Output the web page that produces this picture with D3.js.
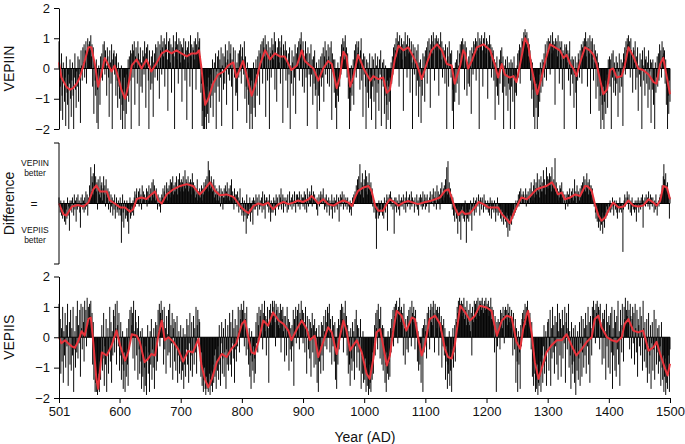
<!DOCTYPE html>
<html><head><meta charset="utf-8">
<script src="https://cdn.jsdelivr.net/npm/d3@7"></script>
<style>html,body{margin:0;padding:0;background:#fff}svg{display:block;font-family:"Liberation Sans",Arial,Helvetica,sans-serif}</style>
</head><body>
<svg id="chart" width="685" height="444"></svg>
<script>
// ---------- DATA ----------
const startYear = 501, endYear = 1500;
const years = d3.range(startYear, endYear + 1);
const xTickValues = [501, 600, 700, 800, 900, 1000, 1100, 1200, 1300, 1400, 1500];
const yTickValues = [-2, -1, 0, 1, 2];

// VEPIIN annual values (one row per decade, 501..1500)
const vepiinValues = [
0.9,0.3,-0.6,-1.4,0.5,-0.9,-1.7,0.2,-0.4,-1.1,
-0.3,-1.9,0.4,-0.8,-1.2,-0.2,-2.0,-0.5,0.3,-1.0,
-1.6,-0.4,0.2,-0.9,-2.0,-0.3,0.5,-0.7,-1.3,-0.1,
-0.6,0.4,-1.1,0.3,-0.2,-1.8,0.6,0.1,-0.4,0.7,
0.2,0.8,-0.3,0.6,0.9,-0.5,0.5,1.0,0.7,0.8,
0.9,0.6,1.1,0.4,0.8,-0.6,0.7,-1.5,0.2,-0.4,
-0.9,0.3,-1.8,-0.7,-2.0,0.1,-0.5,-1.2,0.4,-0.3,
0.5,-0.4,0.8,0.3,0.9,-0.2,0.6,0.1,-0.9,0.7,
0.4,-0.3,-1.6,0.6,0.2,-0.5,0.8,-2.0,0.3,0.5,
0.6,-0.2,0.4,-0.9,0.5,-0.4,-1.3,0.2,-0.6,-1.0,
-0.5,-1.7,0.1,-1.2,-2.0,-0.8,-1.4,-0.3,-2.0,-0.9,
-1.5,-0.2,-0.9,0.3,-1.1,0.4,-0.4,0.6,-2.0,0.5,
0.8,-0.3,0.6,0.9,-1.2,0.4,0.7,0.2,-0.5,0.9,
0.5,-1.9,0.3,0.7,-0.6,0.2,-0.8,0.6,0.4,-0.2,
0.9,0.5,-1.3,0.7,0.3,0.8,-0.4,-2.0,0.6,0.1,
-0.7,0.4,-0.5,0.6,-1.6,0.2,0.5,-0.3,0.8,0.1,
0.7,-0.4,0.9,0.3,-1.0,0.8,0.6,1.1,-0.2,0.7,
0.9,0.4,1.0,-0.6,0.8,0.7,1.2,0.3,-1.4,0.9,
0.6,1.0,0.2,0.8,-0.8,0.7,0.5,1.1,0.4,-2.0,
0.9,0.7,1.2,0.3,0.8,-0.5,1.0,0.6,0.9,0.2,
0.8,-1.1,0.7,0.5,1.0,0.3,-0.4,0.9,0.6,-1.7,
0.7,0.2,0.9,0.5,-0.6,1.1,0.4,0.8,-2.0,0.7,
0.6,0.9,0.3,1.0,-0.7,0.8,0.5,1.2,0.7,0.9,
1.0,0.4,-0.8,-0.5,-1.9,-1.4,-2.0,-0.9,-2.0,-1.6,
-1.0,-2.0,-0.6,-1.5,-0.3,-1.8,-0.9,-0.2,-1.3,-0.5,
-0.9,0.3,-1.6,-0.4,0.2,-0.8,0.5,-2.0,-0.1,0.4,
-0.6,0.6,-1.1,0.3,-0.3,0.7,-1.9,0.1,0.5,-0.7,
0.4,-0.5,0.8,0.2,-1.2,0.6,0.3,-0.2,0.9,-0.4,
0.5,0.8,-0.6,0.3,-2.0,0.7,0.1,-0.3,0.6,-0.9,
-0.8,0.2,-1.4,0.5,-0.3,0.6,-0.1,0.8,-0.5,0.4,
0.7,0.3,-0.2,0.9,-1.0,0.4,-0.6,-1.8,0.2,-0.7,
-1.2,-0.3,-2.0,-0.8,-1.5,-0.4,-2.0,-0.9,0.2,-1.3,
-0.5,-1.6,0.3,-0.2,-0.9,0.4,-0.1,0.6,-1.2,0.5,
0.8,0.2,0.9,-0.5,1.0,0.7,0.4,1.1,-1.6,0.8,
0.6,-0.4,0.9,0.3,-2.0,0.7,0.5,-0.3,1.0,0.6,
0.8,0.3,1.2,-0.7,0.9,0.5,-1.1,0.7,0.4,1.0,
0.2,0.9,-0.5,0.7,1.1,0.4,-1.8,0.8,0.6,0.3,
0.9,-0.4,0.6,0.2,-1.3,0.5,-0.2,0.7,-2.0,0.1,
-0.5,0.6,0.2,-0.9,0.4,-0.3,0.8,-1.5,0.5,0.1,
0.7,0.3,0.9,-0.4,1.0,0.8,1.2,0.5,-0.6,0.9,
0.6,-0.8,0.4,0.9,-0.3,0.5,-1.9,0.7,0.2,-0.2,
0.5,-0.6,0.8,-0.2,0.3,-1.2,0.4,-0.5,0.6,-0.9,
-0.7,0.2,-2.0,-0.4,-0.9,0.3,-1.4,-0.2,0.4,-0.6,
0.5,-0.3,0.7,-1.1,0.4,0.9,-0.2,0.6,0.3,-0.5,
0.8,0.4,-0.6,0.7,0.2,0.9,-1.7,0.5,-0.1,0.3,
-0.8,0.3,-1.3,-0.5,-2.0,-0.9,0.2,-1.1,-0.3,-0.6,
0.4,-0.2,0.8,0.5,1.0,0.7,0.9,0.3,1.1,0.6,
0.7,-0.3,0.5,-1.0,-0.6,-2.0,-0.8,-1.4,0.1,-0.9,
-0.5,0.3,-1.2,0.6,0.2,0.8,-0.3,0.9,0.5,0.7,
0.9,0.4,-0.7,0.6,1.0,-0.4,0.3,-1.6,0.5,-0.2,
0.4,-0.6,-2.0,0.3,-0.8,0.2,-1.3,-0.4,0.5,-1.0,
-0.2,-1.7,0.4,-0.6,0.3,-1.1,-0.4,0.5,-2.0,0.1,
-0.8,0.4,-0.5,-1.4,0.3,-0.2,0.6,-1.9,-0.4,0.2,
-0.6,0.3,-1.5,-0.9,0.1,-2.0,-1.2,-0.4,-1.7,-0.6,
-1.1,-0.3,-2.0,0.2,-0.5,0.4,-0.2,0.7,0.3,0.8,
0.6,1.0,0.4,1.2,0.8,0.9,-0.6,1.1,0.7,0.5,
1.0,0.3,0.8,-1.4,0.9,0.6,1.2,0.4,0.8,-0.3,
1.1,0.7,0.5,1.0,-0.8,0.6,0.9,0.2,-2.0,0.8,
0.5,-0.2,0.7,0.3,-0.9,0.6,-0.4,0.8,-1.6,0.2,
-0.6,0.3,-1.8,-0.4,-0.9,0.5,-0.3,0.4,-1.1,0.6,
0.2,0.7,-0.5,0.9,0.4,1.0,0.6,-1.3,0.8,1.1,
0.9,0.5,1.2,0.8,-0.4,1.0,0.7,1.1,0.6,0.9,
1.0,-0.9,0.8,0.6,1.2,0.3,0.9,-0.3,0.7,0.5,
0.6,-0.5,0.8,0.2,-2.0,0.7,0.4,-0.6,0.9,0.1,
0.5,-0.3,0.6,-1.4,-0.7,-2.0,-0.4,-1.1,0.2,-0.8,
0.3,-0.5,0.6,0.1,-1.2,0.5,0.8,0.2,0.9,0.4,
1.0,0.6,0.8,-0.7,0.9,0.3,0.7,-0.9,0.2,-0.5,
0.4,-0.6,0.6,0.1,-1.5,0.7,0.5,-0.2,0.9,0.6,
0.8,1.0,-0.4,0.9,0.6,1.2,0.7,-2.0,1.0,0.8,
0.9,1.1,0.6,-0.6,1.0,0.8,1.2,0.7,0.5,1.0,
0.9,-1.0,0.8,0.6,1.1,0.4,0.8,-0.3,0.7,0.5,
0.6,-0.4,0.3,-1.7,0.2,-0.6,0.4,-0.9,-0.2,-1.2,
0.3,-0.5,0.6,0.2,0.7,-0.8,0.4,-2.0,0.1,-0.6,
0.3,-0.9,-0.2,0.4,-1.4,-0.5,0.2,-0.7,-2.0,0.3,
-0.6,0.2,-1.1,-0.3,0.4,-2.0,-0.8,-0.2,-0.9,0.1,
0.5,-0.3,0.6,0.8,-0.5,0.7,0.3,1.0,0.9,0.6,
1.2,0.9,1.3,1.1,0.8,1.2,0.7,1.0,0.4,0.8,
0.6,-0.4,0.3,-1.0,0.2,-0.7,-1.6,-0.3,-2.0,-0.6,
-1.3,-0.5,-2.0,-0.9,-1.6,-0.2,-1.1,0.2,-0.8,-0.4,
0.3,-0.6,0.2,0.5,-0.3,0.8,0.4,-0.4,0.9,0.6,
1.0,0.7,0.9,-0.2,1.1,0.8,0.5,1.2,0.6,0.9,
0.8,-1.2,1.0,0.7,0.9,0.4,1.1,0.6,-0.5,0.9,
0.7,0.3,0.9,-0.7,0.6,0.5,-2.0,0.8,0.4,0.7,
0.8,0.2,0.6,-0.4,0.5,0.9,-0.9,0.3,-0.2,0.4,
-0.5,0.3,-1.3,-0.2,0.4,-0.8,-2.0,0.2,-0.4,0.5,
0.3,-0.3,0.6,0.2,0.8,-0.5,0.7,0.9,0.5,1.0,
0.8,1.2,0.4,0.9,-0.6,1.0,0.7,0.5,1.1,-1.5,
0.9,0.6,1.0,0.3,-0.4,0.8,0.2,0.6,-1.0,0.4,
0.5,-0.6,0.2,-1.4,-0.3,-0.9,-2.0,-0.5,-1.2,-1.7,
-0.6,-2.0,-1.1,-0.4,-1.5,-0.8,-0.2,-1.3,0.3,-0.5,
0.4,-0.6,0.3,-2.0,0.5,-0.3,0.6,-0.8,0.2,-0.4,
-0.9,0.4,-0.5,0.2,-1.6,-0.1,0.5,-0.8,-0.3,0.3,
-0.6,0.2,-1.9,0.5,0.3,0.7,-0.2,0.9,0.6,1.0,
0.8,1.1,0.5,0.9,-0.3,1.0,0.6,0.4,-0.8,0.7,
0.6,0.2,0.9,-0.7,0.4,-0.3,0.7,-1.4,0.1,-0.2,
0.5,-0.6,0.3,-2.0,0.6,0.1,-0.4,0.7,-0.9,0.3,
0.4,-0.5,0.2,-1.3,0.6,-0.7,-0.1,0.3,-1.8,0.2,
-0.7,0.3,-1.2,-0.5,-2.0,0.2,-0.8,-0.3,0.4,-0.6,
0.5,-0.4,0.8,0.2,0.6,-0.3,0.9,0.4,0.7,0.5,
0.6,-0.5,0.3,-1.2,-0.6,-2.0,-0.9,-1.5,-0.4,-1.1
];

// Difference (VEPIIN minus VEPIIS skill) annual values
const differenceValues = [
0.2,-0.1,-0.3,0.1,-0.4,-0.2,-0.5,-0.3,0.1,-0.6,
-0.3,-0.7,-0.2,-0.5,0.2,-0.4,-0.1,-0.9,0.1,-0.2,
0.1,-0.3,0.2,-0.1,-0.4,0.3,-0.2,0.1,-0.6,0.2,
-0.2,0.3,-0.1,0.1,-0.3,-0.8,0.2,-0.1,0.3,-0.2,
0.1,-0.3,0.2,-0.2,0.4,-0.1,0.3,-0.4,0.2,0.1,
0.6,0.2,1.2,0.4,0.9,0.7,1.0,0.3,1.3,0.5,
0.9,0.4,0.7,-0.2,0.8,0.5,0.3,0.9,0.2,0.6,
0.7,0.1,0.5,0.9,0.3,0.6,-0.1,0.8,0.4,0.2,
0.5,-0.2,0.4,0.1,-0.3,0.3,-0.1,0.2,-0.4,0.1,
-0.2,0.3,-0.5,-0.1,0.2,-0.3,-0.2,0.1,-0.4,-0.2,
0.2,-0.4,-1.3,-0.6,0.3,-0.3,-0.8,0.1,-0.2,-0.5,
-0.4,0.1,-0.6,-0.3,-1.0,-0.2,0.2,-0.5,-0.4,-0.1,
-0.3,0.1,-0.4,0.2,0.4,-0.1,0.3,0.5,0.1,0.2,
0.4,-0.1,0.5,0.2,0.3,-0.2,0.6,0.1,0.4,0.2,
0.3,0.0,0.2,0.5,-0.1,0.4,0.1,0.6,0.3,0.2,
0.5,0.1,0.7,0.3,0.8,0.2,0.6,0.4,0.1,0.5,
0.2,-0.2,0.3,0.0,-0.1,0.2,-0.3,0.1,0.3,0.2,
0.5,0.1,0.4,0.6,0.2,0.3,0.7,0.1,0.5,0.4,
0.6,0.3,0.8,0.2,0.7,0.5,0.9,0.3,0.6,0.4,
0.7,0.4,0.9,0.5,0.3,0.8,0.6,1.0,0.4,0.7,
0.8,0.5,0.7,0.9,0.4,0.6,1.1,0.5,0.8,0.7,
0.6,0.9,0.4,0.7,0.5,0.8,0.3,0.7,1.0,0.5,
0.7,0.4,0.6,0.2,0.5,0.3,0.8,0.1,0.4,0.2,
0.5,0.2,0.4,0.6,0.1,0.5,0.3,0.7,0.4,0.6,
0.8,0.5,0.9,0.6,1.4,0.4,1.1,0.7,0.5,0.9,
0.7,0.4,0.5,0.8,0.2,0.6,0.3,0.1,0.5,0.3,
0.4,0.1,0.6,0.2,-0.1,0.5,0.3,0.4,-0.2,0.2,
0.5,0.2,0.6,0.1,0.4,0.7,0.2,0.3,0.5,0.1,
0.6,0.3,0.8,0.1,0.4,0.2,-0.2,0.5,0.3,0.0,
0.3,-0.1,0.4,0.2,-0.3,0.1,0.5,-0.2,0.0,-0.4,
0.2,-0.3,-0.6,0.1,-0.4,-0.2,-1.0,0.3,-0.5,-0.1,
-0.4,-0.2,0.2,-0.6,-0.1,-0.3,0.1,-0.7,0.2,-0.2,
0.1,-0.2,0.3,-0.1,0.2,-0.4,0.0,0.3,-0.2,0.1,
-0.1,0.2,-0.3,0.4,0.0,-0.2,0.3,-0.5,0.1,0.2,
0.2,-0.1,0.1,-0.3,0.3,-0.2,-0.6,0.1,-0.3,-0.1,
-0.3,0.2,-0.2,0.1,-0.4,0.3,-0.1,0.2,0.0,-0.2,
0.3,-0.1,0.2,0.5,-0.2,0.1,0.3,-0.3,0.2,0.0,
-0.1,0.2,0.1,-0.3,0.3,-0.2,0.0,0.4,-0.1,0.1,
0.2,-0.2,0.3,0.1,-0.1,0.4,0.0,-0.3,0.3,0.2,
0.3,-0.1,0.2,0.4,-0.2,0.1,0.3,0.0,0.2,-0.1,
0.2,0.4,-0.2,0.3,0.1,-0.3,0.5,0.2,-0.1,0.3,
0.4,0.1,0.3,0.6,-0.1,0.2,0.4,0.0,0.3,0.1,
0.1,-0.2,0.2,-0.4,0.0,0.3,-0.1,0.2,0.4,0.1,
0.3,0.0,0.5,0.1,-0.2,0.2,-0.1,0.3,-0.3,0.1,
-0.1,0.2,-0.4,0.1,0.0,-0.2,0.3,-0.5,0.1,-0.1,
0.2,-0.3,0.1,-0.1,0.3,-0.2,0.0,0.2,-0.6,0.1,
0.3,-0.1,0.2,0.4,0.0,-0.2,0.3,0.1,-0.1,0.2,
0.1,-0.2,0.2,-0.1,0.0,-0.3,0.1,-0.2,-0.4,0.0,
0.2,-0.1,0.3,0.1,0.4,0.2,0.6,0.3,0.8,0.5,
0.9,0.4,1.3,0.3,0.7,0.5,1.0,0.6,0.2,0.8,
0.6,1.1,0.4,0.9,0.3,0.7,0.5,1.0,0.6,0.4,
0.7,0.3,0.5,-0.1,0.2,-0.3,0.1,-0.2,-0.5,-1.5,
-0.3,-0.1,-0.5,0.1,-0.4,-0.3,-0.2,0.1,-0.3,-0.4,
-0.2,-0.5,0.2,-0.1,-0.3,0.1,0.3,-0.9,0.2,0.0,
0.3,0.1,0.4,-0.1,0.2,0.0,-0.2,0.1,-1.0,0.2,
-0.1,0.2,-0.3,0.1,0.0,-0.2,0.3,-0.4,0.1,-0.1,
0.2,-0.1,0.1,0.3,-0.2,0.0,0.2,-0.3,0.4,0.1,
-0.1,0.2,0.0,0.3,-0.2,0.1,0.4,-0.1,0.2,0.0,
0.1,-0.3,0.2,0.0,-0.1,0.3,-0.2,0.1,-0.4,0.2,
0.0,0.3,-0.1,0.2,-0.2,0.4,-0.1,0.1,0.3,-0.2,
0.2,-0.1,0.3,0.0,0.1,-0.3,0.2,0.4,0.0,0.1,
0.3,0.0,0.5,-0.1,0.2,0.4,0.1,-0.2,0.6,0.2,
0.4,0.1,0.3,-0.2,0.5,0.2,0.7,0.3,0.1,0.5,
0.6,0.2,0.8,0.4,1.2,0.3,1.4,0.5,0.7,0.2,
0.5,0.1,0.3,-0.2,0.2,-0.4,0.0,-0.6,-0.1,-0.3,
-0.5,-0.2,-1.0,-0.4,-0.1,-0.6,-0.3,-1.2,-0.2,-0.4,
-0.1,-0.5,-0.3,-0.6,0.1,-0.4,-1.3,-0.2,-0.5,-0.3,
-0.6,-0.2,-0.4,0.1,-0.3,-0.9,-0.1,-0.2,0.2,-0.4,
-0.2,0.1,-0.3,0.2,0.0,-0.1,0.3,0.1,-0.4,0.2,
0.1,-0.2,0.2,0.0,-0.3,0.3,-0.1,0.1,-0.2,0.0,
-0.2,0.1,-0.3,0.0,-0.4,0.2,-0.1,-0.5,0.1,-0.2,
-0.1,-0.3,0.1,-0.2,-0.6,0.0,-0.3,0.2,-0.4,-0.1,
-0.3,-0.1,-0.5,-0.2,-0.6,-0.3,0.0,-0.7,-0.4,-0.5,
-0.6,-0.3,-0.8,-0.4,-1.1,-0.5,-0.7,-0.9,-0.4,-0.6,
-0.7,-0.3,-0.5,-0.2,-0.4,0.0,-0.3,0.1,-0.2,0.0,
0.1,0.3,-0.1,0.4,0.2,0.5,0.0,0.3,0.2,0.4,
0.3,0.0,0.2,0.5,-0.1,0.3,0.1,0.4,0.2,0.0,
0.5,0.2,0.7,0.3,0.4,0.1,0.6,0.8,0.2,0.5,
0.7,0.3,1.0,0.5,0.4,0.8,0.2,0.6,0.9,0.4,
0.7,0.4,1.1,0.5,0.8,0.3,0.6,1.2,0.5,0.9,
0.8,0.5,1.0,0.6,0.9,0.4,1.2,0.7,0.5,0.8,
0.6,1.5,0.4,0.7,0.3,0.5,0.1,0.4,0.2,0.6,
0.5,0.3,0.7,0.2,0.4,0.0,0.3,0.1,-0.2,0.3,
0.2,0.4,-0.1,0.3,0.1,0.5,0.2,0.0,0.4,0.2,
0.5,0.1,0.3,0.8,0.2,0.4,0.0,0.6,0.3,0.4,
0.3,0.1,0.5,0.2,0.6,0.3,0.7,0.4,0.9,0.5,
0.8,0.4,0.6,1.0,0.5,0.7,0.3,0.8,0.6,0.4,
0.6,0.3,0.5,0.1,0.2,-0.1,0.0,-0.3,-0.5,-0.2,
-0.6,-0.3,-0.8,-0.4,-0.6,-0.9,-0.5,-0.7,-0.3,-1.0,
-0.6,-0.4,-0.8,-0.3,-0.5,-0.1,-0.4,-0.2,0.0,-0.3,
-0.2,0.1,-0.3,0.0,-0.2,0.2,-0.1,-0.4,0.1,0.0,
-0.2,0.1,-0.3,-0.5,0.0,-0.1,-0.3,0.2,-0.2,-0.1,
-0.3,0.0,-1.6,-0.2,0.1,0.3,-0.1,0.2,0.0,0.4,
0.2,-0.2,0.3,0.0,-0.3,0.1,-0.4,0.2,-0.1,-0.2,
0.0,-0.3,0.1,-0.2,-0.6,0.1,-0.1,0.2,-0.3,-0.1,
0.1,-0.2,0.2,-0.1,0.3,-0.8,0.1,0.0,0.2,-0.1,
0.3,0.0,0.2,-0.1,0.4,0.1,-0.2,0.3,0.0,0.2,
-0.1,0.2,0.0,-0.3,0.1,-0.2,0.3,-0.1,-0.4,0.0,
0.1,-0.1,0.2,0.3,0.0,0.4,0.6,0.5,0.9,1.3,
0.8,0.5,1.0,0.6,0.4,0.7,0.2,0.3,-0.5,0.2
];

// VEPIIS annual values
const vepiisValues = [
1.1,-0.4,0.6,-1.2,0.3,-0.8,1.0,-1.5,0.2,-0.6,
0.8,-1.0,0.4,-0.3,1.1,-1.6,-0.2,0.5,-0.9,0.9,
-1.1,0.3,-0.6,1.0,-1.8,-0.4,0.2,-1.0,0.7,-0.5,
1.2,-0.7,0.4,-0.2,0.9,-1.3,1.1,0.3,-0.4,1.0,
0.5,-0.8,1.2,0.2,0.9,-0.3,1.3,0.6,1.0,0.4,
1.1,0.7,1.2,0.3,0.8,-0.9,0.5,-1.4,-0.6,-1.8,
-1.5,-1.8,-1.3,-1.9,-1.7,-1.2,-1.8,-0.8,-1.4,-0.6,
0.4,-1.1,-0.7,0.8,-1.6,-0.3,-0.9,0.6,-1.8,-0.5,
0.3,-1.2,-0.4,1.0,-0.8,0.5,-1.5,0.2,-0.6,0.9,
0.7,-0.5,1.1,0.3,-0.9,1.2,0.4,-0.3,0.8,-1.1,
-0.6,0.5,-1.4,-0.9,0.2,-1.7,-1.1,-0.5,-1.8,-0.8,
-1.3,0.3,-0.9,-1.6,0.6,-0.4,0.9,-0.2,1.0,0.4,
0.8,-0.7,1.2,0.2,-1.1,0.9,0.5,-0.6,0.3,-1.4,
0.7,-0.4,-1.2,0.2,-0.8,-1.7,0.3,-1.3,-0.6,-1.8,
-1.0,-1.6,-0.3,-1.9,-0.7,0.4,-1.2,-0.5,-1.8,0.2,
-0.9,0.6,-1.4,-0.4,-1.0,0.3,-1.7,-0.6,0.5,-1.1,
0.4,-0.8,0.9,0.2,1.1,-0.3,0.8,1.2,0.6,0.9,
0.5,-0.9,1.0,-0.4,0.3,-1.2,0.7,0.1,-0.6,0.9,
-0.5,1.1,-1.0,0.4,-0.2,0.8,-1.4,0.3,0.6,-0.8,
0.5,-1.1,-0.3,0.7,-1.5,-0.6,0.2,-1.2,-0.8,0.4,
-1.4,-0.6,-1.1,0.3,-1.7,-0.9,0.1,-1.3,-0.4,0.6,
-0.9,0.4,-1.5,-0.2,0.8,-1.1,-0.6,0.5,-1.3,-0.4,
0.7,-0.9,0.3,-0.5,1.0,-1.2,0.4,0.9,-0.3,0.6,
0.5,-0.8,-1.3,-0.5,-1.6,-1.1,-1.8,-1.4,-1.0,-1.7,
-1.9,-1.3,-1.7,-1.5,-1.8,-1.6,-1.2,-1.9,-1.4,-1.6,
-1.1,-1.8,-0.9,-1.5,-0.6,-1.3,-0.4,-1.7,-0.8,-1.1,
-0.3,-1.4,0.4,-0.9,-1.6,-0.2,0.5,-1.2,-0.7,0.3,
-1.3,-0.5,0.6,-1.7,-0.4,-0.9,0.4,-1.1,-0.6,0.8,
-0.9,0.5,-1.3,-0.2,0.9,-0.7,0.3,-1.5,0.6,-0.4,
-0.8,0.4,-0.3,1.0,0.2,-0.5,0.9,0.6,1.1,0.3,
0.9,0.4,1.2,-0.3,0.8,0.6,-0.6,1.0,0.2,-0.4,
-0.9,0.3,-1.3,-0.6,-1.7,0.2,-0.8,-1.1,-0.3,-1.5,
-0.7,-1.2,0.5,-0.2,0.8,-0.5,0.4,1.0,0.1,0.7,
0.9,0.3,1.1,-0.4,0.8,0.6,1.2,0.2,0.7,-0.6,
0.6,1.0,0.3,-1.5,0.9,0.5,1.1,0.8,0.4,1.2,
1.0,0.7,1.2,0.5,-0.3,1.1,0.9,0.6,1.0,0.4,
0.8,0.3,1.1,-0.5,0.9,0.6,1.0,0.2,0.7,-0.8,
0.7,0.4,-0.6,1.0,0.2,0.6,-1.1,0.5,-0.4,0.3,
-0.8,0.4,-0.3,0.9,-1.6,0.6,0.1,1.0,-0.2,0.7,
0.9,0.3,1.1,-0.4,0.8,0.6,1.2,0.5,0.9,-0.2,
0.8,0.5,-0.5,1.0,0.3,-1.2,0.7,0.2,-0.4,0.6,
-0.7,0.5,-1.3,0.3,0.8,-0.5,0.4,-1.0,0.6,0.2,
-0.9,0.3,-1.5,-0.6,-1.8,0.4,-0.8,-0.3,-1.2,0.5,
-0.6,0.4,-1.1,0.7,0.2,-0.3,0.9,0.5,-0.4,1.0,
0.8,0.3,1.1,-0.5,0.6,0.2,-0.9,0.7,-0.3,0.4,
-0.8,0.5,-1.4,-0.6,-1.7,0.3,-0.9,0.6,-0.4,0.4,
0.9,0.2,1.1,0.6,1.0,-0.5,0.8,0.4,1.2,0.3,
0.7,-0.6,0.4,-1.2,0.2,-0.9,-1.6,0.3,-0.7,-1.1,
0.5,-0.8,0.2,-1.4,0.6,-0.3,0.9,-1.0,0.4,-0.5,
0.3,-1.1,-0.4,0.6,-1.7,-0.6,-1.2,0.2,-1.5,-0.9,
-1.4,-0.7,-1.8,-1.1,-1.6,-1.3,-1.9,-0.9,-1.7,-1.5,
-1.8,-1.0,-1.4,-0.5,-1.2,-0.2,0.4,-0.6,0.8,0.3,
0.9,-0.4,1.1,0.2,0.6,-0.7,1.0,0.3,-0.9,0.4,
-1.1,0.3,-0.6,-1.5,-0.9,-1.8,-0.5,-1.2,0.2,-1.4,
-0.8,-1.3,0.3,-0.5,0.6,0.2,0.9,-0.3,1.0,0.7,
1.1,0.6,1.2,0.9,-0.2,1.0,0.8,1.3,0.5,0.9,
1.0,0.4,0.8,-0.6,1.1,0.3,-0.9,0.6,0.2,-0.4,
0.7,-0.5,0.9,0.4,1.0,0.6,-0.3,1.2,0.8,0.5,
1.0,0.7,-0.4,0.9,0.3,0.5,-0.8,0.2,-1.1,-0.3,
-0.9,-0.2,-1.5,-0.6,0.3,-1.8,0.4,-0.5,0.6,0.2,
0.4,-0.7,0.8,0.3,1.0,0.6,-0.4,0.9,1.1,0.5,
1.0,0.4,1.2,0.8,-0.5,1.1,0.7,0.9,0.3,1.0,
0.8,-0.6,1.0,0.5,0.2,0.7,-1.0,0.4,-0.3,0.6,
-0.6,0.3,-1.4,-0.8,-0.3,-1.7,-0.9,-1.2,0.2,-1.6,
-1.1,-0.4,-1.8,-0.7,0.3,-1.0,-0.5,0.4,-0.8,0.6,
0.5,1.0,0.8,1.2,0.6,1.3,1.1,0.9,1.2,0.7,
1.1,0.8,1.3,0.6,1.0,0.9,0.4,1.2,0.7,0.5,
0.9,0.4,1.1,0.2,0.8,-0.6,1.0,0.7,0.5,1.2,
0.9,1.1,0.6,1.2,0.8,1.3,1.0,0.7,1.2,1.1,
1.2,0.9,1.3,1.0,0.8,1.1,1.2,0.9,1.3,1.0,
1.1,1.0,1.2,0.7,1.0,0.9,1.3,0.6,1.0,0.8,
0.9,0.4,-0.5,0.7,0.2,-1.8,0.5,-0.3,0.6,0.2,
0.5,-0.4,0.9,0.6,0.8,0.3,1.0,0.7,-0.2,0.9,
1.0,0.6,0.9,0.4,1.1,0.8,0.5,1.0,0.7,0.3,
0.9,0.5,-0.6,0.8,0.2,-0.4,0.6,-1.5,0.3,-0.8,
-1.8,0.2,-0.9,-0.5,-1.7,0.4,-0.3,0.6,0.8,0.5,
0.9,0.6,1.1,0.4,1.0,0.8,1.2,0.9,0.7,0.5,
0.8,0.3,-0.4,0.5,-1.3,-0.8,-1.6,-0.5,-1.2,-1.8,
-1.4,-1.7,-0.9,-1.9,-1.5,-1.6,-1.3,-0.8,-1.8,-1.1,
-0.6,-1.5,-0.3,0.4,-1.2,-0.8,0.2,-1.6,-0.4,0.5,
0.6,-1.1,-0.4,0.9,-1.6,0.3,-0.7,1.0,-0.5,0.4,
-1.2,0.7,-0.3,0.5,-0.9,1.1,-1.4,0.2,0.8,-0.6,
0.6,-1.3,0.3,0.9,-0.7,0.4,-0.2,1.0,-1.5,0.5,
0.8,-0.4,0.3,1.1,-1.0,0.2,-0.6,-1.7,0.5,-0.9,
-1.2,0.3,-0.8,-1.5,0.4,-1.9,-0.6,-1.1,0.2,-1.4,
-0.7,0.5,-1.6,-0.2,0.7,-1.3,-0.5,0.6,-1.0,0.3,
-0.6,0.8,-1.2,0.4,-0.3,1.0,-0.9,0.5,-1.5,0.7,
0.3,-0.6,1.0,0.7,1.2,0.5,0.9,-0.2,1.1,0.8,
1.2,0.6,1.0,0.9,-0.4,1.1,0.5,0.3,-0.9,0.8,
0.6,-0.7,0.9,0.2,-1.4,1.1,-0.3,0.5,-1.0,0.7,
0.4,-1.2,0.8,-0.5,1.0,-1.7,0.3,-0.6,0.9,-1.1,
0.5,-1.3,0.7,-0.4,1.2,-0.9,0.2,-1.6,0.9,0.4,
-0.5,1.1,0.3,-0.8,1.0,0.6,1.3,0.4,0.9,0.7,
1.2,0.5,0.9,-0.4,1.1,0.7,-0.7,0.6,1.0,-0.2,
0.8,-0.9,1.1,0.3,-0.5,0.9,-1.3,0.6,0.4,-0.3,
1.0,-0.6,0.7,0.2,-1.1,1.2,0.3,-0.8,0.5,-0.4,
-1.0,0.6,-1.5,-0.3,0.8,-1.2,-0.6,0.4,-1.7,-0.2,
0.5,-1.1,-0.4,0.9,-1.4,-0.2,0.6,-0.9,-0.5,0.3,
-1.2,0.4,-0.8,-0.3,-1.6,0.5,-1.0,-1.4,-0.6,-1.8,
-1.3,-0.7,-1.9,-1.5,-0.9,-1.7,-1.2,-0.6,-1.8,-0.4
];

// Smoothed (red) curves: years and values
const vepiinSmoothYears = [501,505,513,519,524,530,535,541,545,549,554,560,565,571,576,582,587,592,598,603,609,614,620,628,636,644,652,661,669,677,685,693,701,710,718,726,730,734,740,745,753,761,770,778,786,791,802,810,816,821,830,838,846,854,862,870,881,890,898,903,911,917,925,933,941,947,955,960,966,971,977,982,990,999,1010,1015,1023,1031,1037,1042,1050,1056,1064,1072,1080,1086,1094,1102,1110,1119,1127,1135,1143,1148,1157,1162,1165,1170,1176,1184,1195,1206,1214,1219,1225,1230,1238,1244,1249,1257,1263,1268,1274,1279,1283,1290,1296,1304,1312,1320,1326,1331,1337,1342,1347,1353,1361,1369,1375,1380,1386,1391,1397,1402,1407,1413,1421,1426,1432,1440,1448,1456,1465,1473,1478,1484,1489,1495,1500];
const vepiinSmoothValues = [0.2,-0.3,-0.6,-0.7,-0.65,-0.5,-0.3,0.1,0.4,0.7,0.7,0.1,-0.6,-0.1,0.35,0.1,-0.1,0.1,-0.3,-0.7,-1.0,-0.6,0.1,0.3,0.0,0.3,-0.1,0.2,0.5,0.6,0.5,0.6,0.5,0.4,0.5,0.5,0.6,0.0,-1.2,-1.0,-0.5,-0.2,-0.1,0.1,0.2,-0.3,0.25,-0.4,-0.9,-0.6,0.15,0.6,0.3,0.5,0.4,0.4,-0.05,0.1,0.6,0.25,0.1,0.0,-0.4,0.0,0.25,0.15,-0.65,-0.3,0.55,0.4,-0.6,-0.3,0.45,0.0,-0.4,-0.25,-0.35,-0.3,-0.8,-0.7,0.3,0.75,0.6,0.7,0.4,0.15,-0.35,0.15,0.6,0.8,0.6,0.15,0.1,-0.5,0.1,0.6,0.5,0.0,0.25,0.7,0.8,0.6,0.1,-0.3,0.15,-0.2,-0.3,-0.25,-0.45,0.35,1.0,0.8,0.0,-0.5,-0.85,-0.3,0.25,0.8,0.7,0.6,0.35,0.45,0.15,0.0,-0.25,0.2,0.7,0.6,0.45,0.15,-0.4,-0.85,-0.7,-0.05,0.0,-0.3,-0.25,0.1,0.7,0.4,0.0,-0.05,-0.2,-0.45,-0.5,0.15,0.35,-0.3,-0.85];

const differenceSmoothYears = [501,508,513,522,532,541,549,557,562,568,573,579,584,592,601,609,617,622,628,636,644,652,658,663,669,677,688,699,710,720,731,737,748,756,764,775,786,789,797,805,811,819,827,835,843,851,860,868,876,884,892,900,909,914,920,925,933,941,950,958,966,974,980,985,990,999,1007,1012,1018,1023,1031,1037,1042,1050,1056,1064,1072,1080,1088,1097,1108,1116,1124,1132,1138,1143,1148,1154,1160,1165,1173,1181,1187,1195,1203,1211,1219,1225,1233,1238,1244,1252,1257,1266,1274,1282,1290,1298,1307,1312,1317,1323,1328,1337,1345,1353,1361,1366,1372,1377,1383,1388,1394,1402,1407,1416,1424,1432,1440,1448,1456,1465,1473,1478,1484,1489,1495,1500];
const differenceSmoothValues = [0,-0.35,-0.4,-0.1,-0.05,-0.1,0.03,0.47,0.6,0.4,0.4,0.4,0.1,0,-0.13,-0.13,-0.27,-0.2,0.15,0.2,0.15,0.3,0.4,0.1,0,0.3,0.47,0.58,0.64,0.58,0.3,0.42,0.7,0.42,0.27,0.3,0.22,0.15,-0.08,-0.24,-0.32,-0.08,0,-0.05,0.03,-0.19,-0.02,0.05,-0.02,0.03,0.1,0.05,0.14,0.25,0.12,0,0.14,-0.02,-0.07,0.03,0.1,0.03,-0.08,0.2,0.42,0.53,0.58,0.42,-0.08,-0.24,-0.24,0,0.14,0.03,-0.07,0.03,0.08,0.03,-0.02,0.03,0.08,0.14,0.2,0.42,0.47,0.2,-0.13,-0.38,-0.25,-0.35,-0.32,-0.13,0.05,-0.02,-0.13,-0.13,-0.13,-0.35,-0.52,-0.65,-0.35,0,0.2,0.14,0.3,0.47,0.53,0.58,0.7,0.53,0.3,0.36,0.14,0.2,0.3,0.25,0.58,0.56,0.42,0,-0.4,-0.57,-0.46,-0.13,0.03,-0.13,-0.1,0.1,-0.07,-0.1,-0.07,0.14,0.03,-0.07,0.09,0.58,0.53,0.14];

const vepiisSmoothYears = [501,505,511,516,522,527,533,538,543,549,553,557,562,565,571,579,587,595,601,609,614,620,628,633,641,647,652,658,663,669,674,680,688,696,704,712,720,729,734,740,745,751,759,767,775,783,791,800,805,810,816,821,827,835,843,851,860,868,876,881,890,898,906,911,919,925,933,941,947,955,960,966,971,977,982,988,996,1004,1009,1015,1020,1026,1031,1037,1042,1048,1053,1061,1069,1078,1083,1088,1094,1099,1107,1116,1124,1132,1137,1143,1148,1157,1165,1173,1181,1189,1200,1208,1217,1225,1233,1241,1249,1255,1260,1266,1268,1274,1279,1285,1290,1298,1306,1315,1323,1331,1339,1347,1356,1364,1372,1377,1383,1388,1397,1405,1413,1421,1426,1432,1440,1448,1456,1465,1473,1478,1484,1492,1496,1500];
const vepiisSmoothValues = [0,-0.2,-0.1,-0.2,-0.3,-0.35,-0.1,0.2,0.05,0.6,0.65,-0.15,-1.35,-1.7,-0.5,-0.6,-0.27,0.22,-0.27,-0.77,-0.5,0.1,0.05,-0.15,-0.82,-0.7,-0.55,-0.6,0,0.55,-0.1,0,-0.15,-0.4,-0.8,-0.45,-0.5,-0.05,-0.93,-1.4,-1.65,-1.37,-0.82,-0.55,-0.65,-0.38,-0.2,0.44,0.55,0.05,-0.5,-0.55,-0.15,0.55,0.38,0.82,0.55,0.44,0.22,-0.1,0.27,0.55,0.27,-0.1,0.05,-0.65,-0.15,0.33,0.16,-0.55,0,0.55,0.22,-0.44,-0.27,-0.1,-0.5,-1.2,-1.37,-0.7,0.16,0.27,-0.27,-0.93,-0.6,0.27,0.87,0.71,0.22,0.65,0.6,0,-0.6,-0.27,0.6,0.71,0.44,-0.38,-0.65,-0.7,-0.27,1.04,0.82,0.55,0.71,1.04,0.98,0.87,0.05,0.55,0.71,0.65,-0.15,-0.38,0.27,0.77,0.87,0.1,-0.82,-1.37,-1.04,-0.5,-0.27,-0.1,-0.1,0.1,-0.27,-0.6,-0.38,-0.15,0,0.6,0.71,0.33,0,-0.1,-0.15,0,0.44,0.6,0.22,0.16,0.22,-0.44,-0.33,-0.15,-0.55,-1.04,-1.26,-0.87];

// ---------- DRAWING ----------
const svg = d3.select('#chart');
const x = d3.scaleLinear().domain([startYear, endYear]).range([59, 670]);
const barW = 0.95;
const FONT = '"Liberation Sans", Arial, Helvetica, sans-serif';

const panels = [
  {values: vepiinValues, sy: vepiinSmoothYears, sv: vepiinSmoothValues, y: d3.scaleLinear().domain([-2, 2]).range([129, 8])},
  {values: differenceValues, sy: differenceSmoothYears, sv: differenceSmoothValues, y: d3.scaleLinear().domain([-2, 2]).range([264, 143])},
  {values: vepiisValues, sy: vepiisSmoothYears, sv: vepiisSmoothValues, y: d3.scaleLinear().domain([-2, 2]).range([398, 276.5])}
];

panels.forEach(p => {
  const g = svg.append('g');
  const y0 = p.y(0);
  g.selectAll('rect').data(years).join('rect')
    .attr('x', d => x(d) - barW / 2)
    .attr('width', barW)
    .attr('y', (d, i) => Math.min(y0, p.y(p.values[i])))
    .attr('height', (d, i) => Math.abs(p.y(p.values[i]) - y0))
    .attr('fill', '#000');
  g.append('line')
    .attr('x1', x(startYear)).attr('x2', x(endYear))
    .attr('y1', y0).attr('y2', y0)
    .attr('stroke', '#000').attr('stroke-width', 1.1);
  const line = d3.line().x(d => x(d[0])).y(d => p.y(d[1]));
  g.append('path')
    .datum(p.sy.map((yr, i) => [yr, p.sv[i]]))
    .attr('d', line)
    .attr('fill', 'none')
    .attr('stroke', '#e8333b')
    .attr('stroke-width', 2)
    .attr('stroke-linejoin', 'round');
});

function styleAxis(sel) {
  sel.select('.domain').attr('stroke', '#000').attr('stroke-width', 1);
  sel.selectAll('.tick line').attr('stroke', '#000');
  sel.selectAll('text').attr('font-size', 13).attr('font-family', FONT).attr('fill', '#111');
}

// Top and bottom y axes
[panels[0], panels[2]].forEach(p => {
  svg.append('g')
    .attr('transform', 'translate(59,0)')
    .call(d3.axisLeft(p.y).tickValues(yTickValues).tickSize(5).tickSizeOuter(0).tickPadding(4).tickFormat(d3.format('d')))
    .call(styleAxis);
});

// Middle bracket axis
const pm = panels[1];
svg.append('path')
  .attr('d', `M54,${pm.y(2)}H59V${pm.y(-2)}H54`)
  .attr('fill', 'none').attr('stroke', '#000').attr('stroke-width', 1);

// X axis at the bottom
svg.append('g')
  .attr('transform', `translate(0,${panels[2].y(-2)})`)
  .call(d3.axisBottom(x).tickValues(xTickValues).tickSize(5).tickSizeOuter(0).tickPadding(4).tickFormat(d3.format('d')))
  .call(styleAxis);

// Labels
function vLabel(text, cx, cy, size) {
  svg.append('text')
    .attr('transform', `translate(${cx},${cy}) rotate(-90)`)
    .attr('text-anchor', 'middle')
    .attr('font-family', FONT).attr('font-size', size).attr('fill', '#111')
    .text(text);
}
vLabel('VEPIIN', 14, panels[0].y(0), 14);
vLabel('Difference', 14, panels[1].y(0), 14);
vLabel('VEPIIS', 14, panels[2].y(0), 14);

const small = [
  ['VEPIIN', 166], ['better', 176], ['VEPIIS', 233], ['better', 243]
];
small.forEach(([t, yy]) => {
  svg.append('text').attr('x', 35).attr('y', yy)
    .attr('text-anchor', 'middle').attr('font-family', FONT).attr('font-size', 8.5).attr('fill', '#111')
    .text(t);
});
svg.append('text').attr('x', 34).attr('y', pm.y(0) + 4)
  .attr('text-anchor', 'middle').attr('font-family', FONT).attr('font-size', 12).attr('fill', '#111')
  .text('=');

svg.append('text').attr('x', 365).attr('y', 442)
  .attr('text-anchor', 'middle').attr('font-family', FONT).attr('font-size', 14).attr('fill', '#111')
  .text('Year (AD)');
</script>
</body></html>
